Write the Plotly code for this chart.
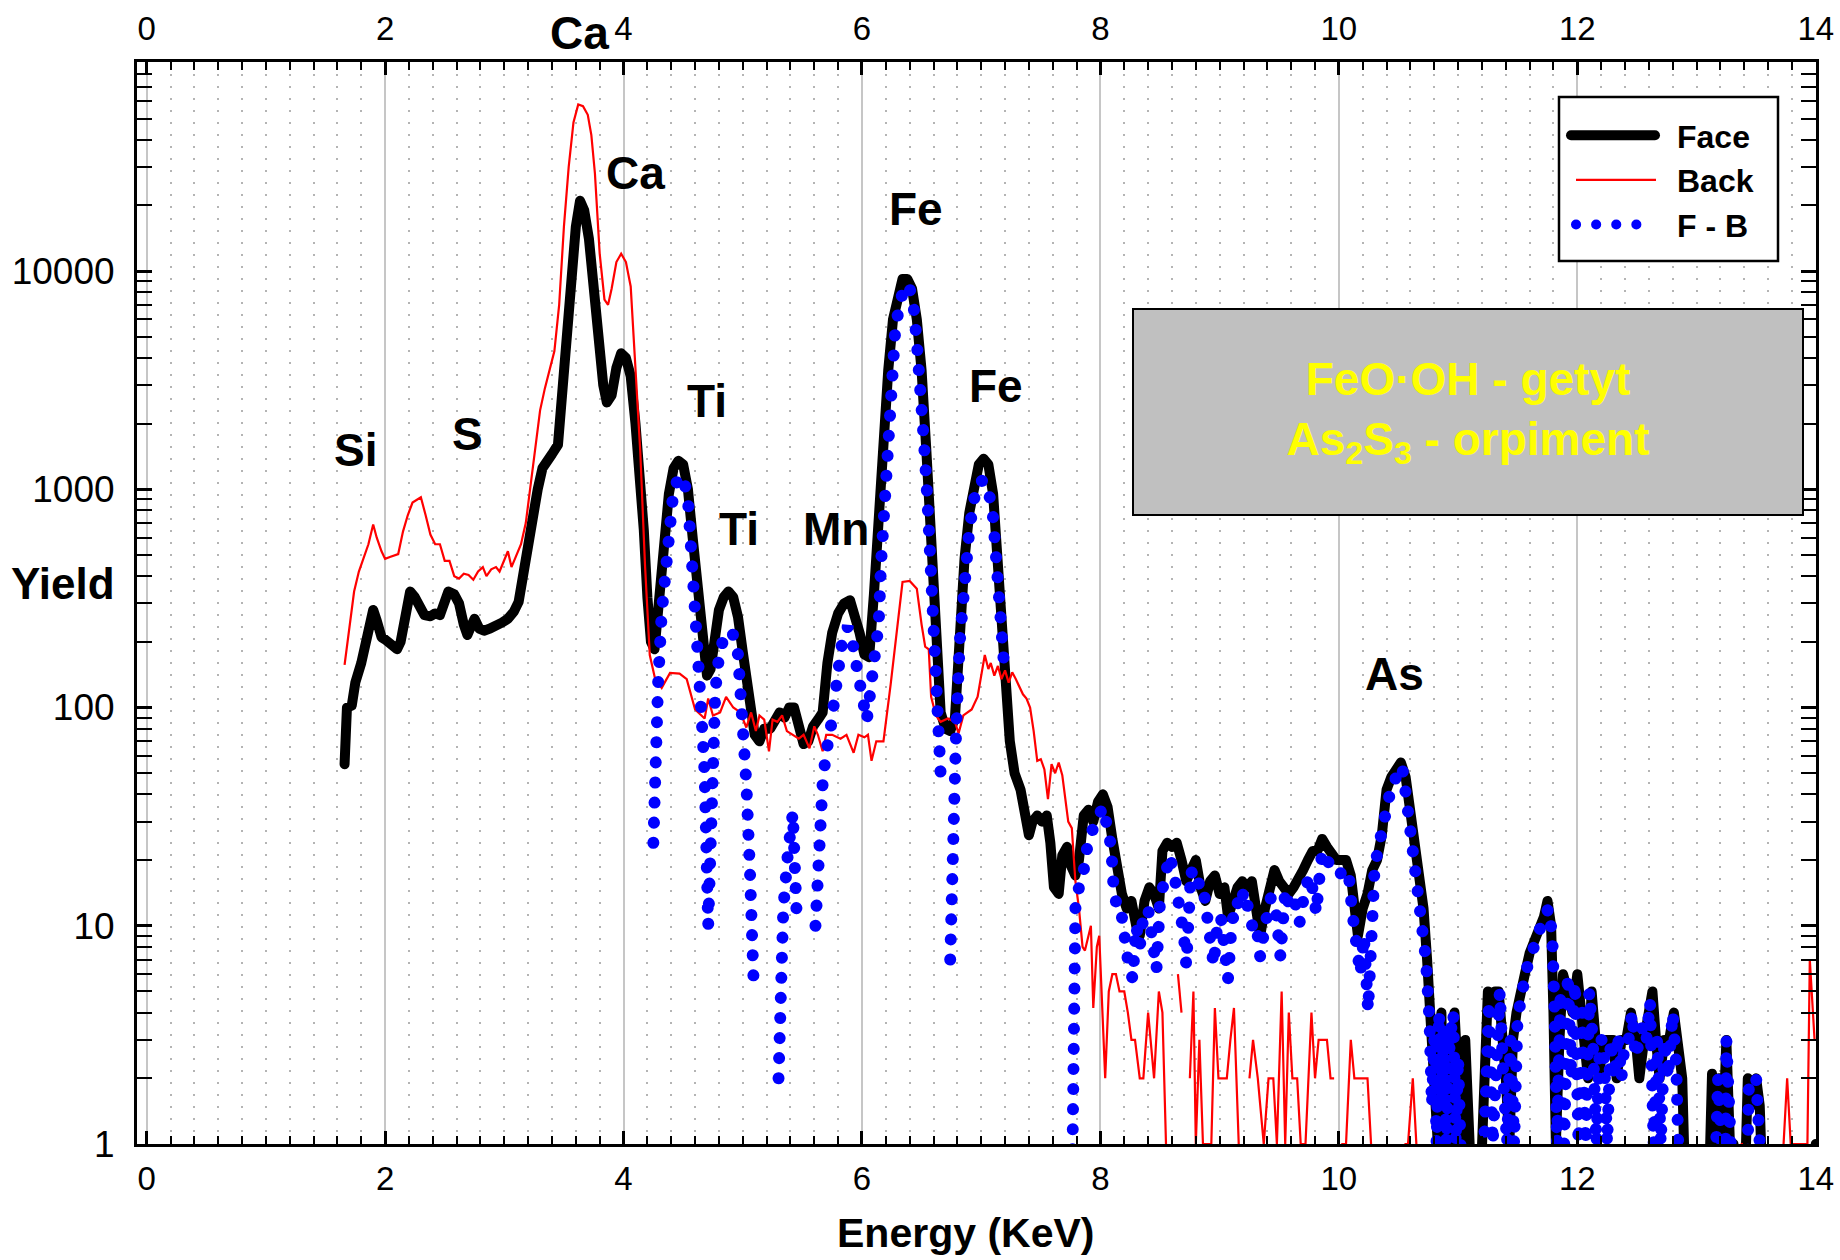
import math
import plotly.graph_objects as go

# ---------------- data ----------------
face_e = [
    1.66, 1.68, 1.72, 1.75, 1.80, 1.85, 1.90, 1.93, 1.97, 2.00,
    2.05, 2.10, 2.13, 2.17, 2.21, 2.25, 2.29, 2.33, 2.38, 2.42,
    2.46, 2.50, 2.53, 2.58, 2.62, 2.66, 2.69, 2.72, 2.75, 2.79,
    2.83, 2.88, 2.93, 2.98, 3.03, 3.08, 3.12, 3.16, 3.20, 3.24,
    3.28, 3.32, 3.36, 3.40, 3.45, 3.48, 3.52, 3.56, 3.60, 3.635,
    3.67, 3.71, 3.75, 3.79, 3.83, 3.86, 3.90, 3.94, 3.98, 4.02,
    4.06, 4.10, 4.14, 4.17, 4.20, 4.23, 4.26, 4.30, 4.34, 4.38,
    4.42, 4.46, 4.50, 4.54, 4.58, 4.62, 4.66, 4.70, 4.73, 4.76,
    4.80, 4.84, 4.88, 4.92, 4.96, 5.00, 5.03, 5.06, 5.10, 5.14,
    5.18, 5.23, 5.27, 5.31, 5.35, 5.39, 5.43, 5.47, 5.51, 5.55,
    5.59, 5.63, 5.67, 5.71, 5.75, 5.80, 5.85, 5.90, 5.94, 5.98,
    6.02, 6.06, 6.10, 6.14, 6.18, 6.22, 6.26, 6.30, 6.34, 6.38,
    6.42, 6.46, 6.50, 6.54, 6.58, 6.62, 6.66, 6.70, 6.74, 6.78,
    6.82, 6.86, 6.90, 6.94, 6.98, 7.02, 7.06, 7.10, 7.14, 7.18,
    7.21, 7.24, 7.28, 7.33, 7.37, 7.40, 7.43, 7.47, 7.51, 7.55,
    7.58, 7.61, 7.65, 7.68, 7.72, 7.75, 7.79, 7.82, 7.86, 7.90,
    7.94, 7.98, 8.02, 8.06, 8.10, 8.14, 8.18, 8.22, 8.26, 8.30,
    8.33, 8.37, 8.41, 8.45, 8.49, 8.52, 8.56, 8.60, 8.64, 8.68,
    8.72, 8.76, 8.80, 8.84, 8.88, 8.92, 8.96, 9.00, 9.04, 9.07,
    9.11, 9.15, 9.19, 9.23, 9.27, 9.31, 9.34, 9.38, 9.42, 9.46,
    9.50, 9.54, 9.58, 9.62, 9.66, 9.70, 9.74, 9.78, 9.82, 9.86,
    9.90, 9.94, 9.98, 10.02, 10.06, 10.10, 10.13, 10.16, 10.20, 10.24,
    10.28, 10.32, 10.36, 10.40, 10.44, 10.48, 10.52, 10.56, 10.60, 10.64,
    10.68, 10.71, 10.74, 10.77, 10.80, 10.83, 10.86, 10.88, 10.91, 10.94,
    10.97, 11.00, 11.03, 11.06, 11.09, 11.12, 11.18, 11.22, 11.25, 11.28,
    11.31, 11.34, 11.37, 11.40, 11.43, 11.46, 11.49, 11.52, 11.56, 11.60,
    11.64, 11.68, 11.72, 11.75, 11.78, 11.80, 11.82, 11.85, 11.88, 11.92,
    11.96, 12.00, 12.03, 12.06, 12.09, 12.12, 12.15, 12.18, 12.22, 12.26,
    12.30, 12.33, 12.37, 12.41, 12.45, 12.49, 12.52, 12.56, 12.60, 12.63,
    12.66, 12.69, 12.73, 12.77, 12.81, 12.85, 12.88, 12.91, 13.10, 13.13,
    13.16, 13.19, 13.22, 13.25, 13.28, 13.31, 13.34, 13.40, 13.43, 13.46,
    13.50, 13.53, 13.56, 13.97, 14.00,
]
face_y = [
    55, 100, 102, 130, 160, 220, 280, 250, 210, 205,
    195, 185, 200, 280, 340, 320, 285, 265, 262, 270,
    265, 320, 340, 330, 300, 240, 215, 235, 255, 230,
    225, 230, 235, 245, 255, 275, 305, 420, 580, 800,
    1000, 1250, 1380, 1450, 1600, 2500, 5000, 9500, 16000, 21000,
    19000, 14000, 8500, 4500, 3000, 2500, 2700, 3600, 4200, 4000,
    3300, 2000, 1100, 650, 320, 200, 185, 330, 650, 950,
    1250, 1350, 1300, 1000, 600, 350, 200, 140, 150, 210,
    280, 320, 340, 320, 260, 180, 140, 100, 75, 70,
    80, 80, 88, 95, 90, 100, 100, 80, 68, 70,
    82, 88, 95, 160, 220, 270, 300, 310, 270, 220,
    175, 170, 330, 800, 1700, 3500, 6000, 8000, 9200, 9200,
    8300, 6000, 3500, 1500, 550, 200, 95, 80, 78, 90,
    240, 480, 780, 1100, 1300, 1380, 1300, 950, 450, 200,
    100, 70, 50, 42, 32, 26, 30, 32, 30, 32,
    24, 15, 14, 21, 23, 19, 17, 20, 32, 34,
    30, 37, 40, 35, 25, 18, 14, 12, 13, 10,
    9, 13, 15, 14, 12, 22, 24, 23, 24, 20,
    16, 18, 20, 15, 13, 16, 17, 14, 15, 11,
    13, 15, 16, 15, 16, 12, 9, 12, 15, 18,
    16, 15, 14, 15, 17, 18, 20, 22, 22, 25,
    23, 21, 20, 20, 20, 17, 11, 9, 12, 14,
    18, 20, 26, 42, 48, 52, 56, 48, 33, 22,
    17, 12, 7, 3.5, 2, 1, 4, 1, 3, 1,
    4, 2, 1, 3, 1, 0.5, 0.5, 3, 5, 4,
    5, 5, 3.5, 2, 1, 3, 4, 5, 6, 7.5,
    8.5, 9.5, 11, 13, 10, 4, 1, 3, 6, 5,
    4, 6, 4, 2.5, 2, 5, 3, 2, 3, 3,
    3, 2, 3, 3, 4, 3, 2, 3, 4, 5,
    3, 2, 3, 3, 4, 2.5, 2, 0.5, 0.5, 2.1,
    1, 2, 1, 3, 1, 1, 0.5, 0.5, 2, 1.5,
    2, 1.5, 0.5, 0.5, 1,
]

back_e = [
    1.66, 1.70, 1.74, 1.78, 1.82, 1.86, 1.90, 1.93, 1.97, 2.00,
    2.04, 2.08, 2.11, 2.15, 2.19, 2.23, 2.27, 2.30, 2.34, 2.38,
    2.42, 2.46, 2.50, 2.54, 2.58, 2.62, 2.66, 2.70, 2.74, 2.78,
    2.82, 2.85, 2.89, 2.93, 2.96, 3.00, 3.03, 3.06, 3.10, 3.14,
    3.18, 3.22, 3.26, 3.30, 3.34, 3.38, 3.42, 3.46, 3.50, 3.54,
    3.58, 3.62, 3.66, 3.70, 3.73, 3.76, 3.80, 3.84, 3.87, 3.90,
    3.94, 3.98, 4.02, 4.06, 4.10, 4.14, 4.18, 4.22, 4.265, 4.32,
    4.39, 4.47, 4.53, 4.60, 4.68, 4.71, 4.75, 4.81, 4.86, 4.92,
    4.98, 5.03, 5.07, 5.11, 5.14, 5.18, 5.22, 5.25, 5.29, 5.33,
    5.37, 5.42, 5.47, 5.51, 5.56, 5.60, 5.63, 5.67, 5.70, 5.75,
    5.82, 5.87, 5.93, 5.97, 6.02, 6.05, 6.08, 6.12, 6.18, 6.24,
    6.30, 6.34, 6.40, 6.46, 6.50, 6.53, 6.56, 6.58, 6.62, 6.66,
    6.72, 6.78, 6.81, 6.85, 6.92, 6.97, 7.00, 7.03, 7.06, 7.08,
    7.11, 7.14, 7.17, 7.20, 7.23, 7.26, 7.29, 7.32, 7.35, 7.38,
    7.41, 7.44, 7.47, 7.50, 7.53, 7.56, 7.59, 7.62, 7.65, 7.68,
    7.71, 7.73, 7.76, 7.79, 7.82, 7.85, 7.87, 7.90, 7.92, 7.94,
    7.97, 7.99, 8.02, 8.04, 8.07, 8.10, 8.13, 8.16, 8.20, 8.23,
    8.26, 8.29, 8.33, 8.36, 8.40, 8.45, 8.49, 8.52, 8.55, 8.58,
    8.62, 8.65, 8.68, 8.71, 8.75, 8.78, 8.80, 8.83, 8.86, 8.90,
    8.93, 8.96, 8.99, 9.03, 9.06, 9.09, 9.12, 9.16, 9.19, 9.25,
    9.28, 9.32, 9.37, 9.41, 9.45, 9.48, 9.52, 9.55, 9.58, 9.61,
    9.65, 9.68, 9.72, 9.77, 9.80, 9.83, 9.87, 9.90, 9.93, 9.96,
    9.99, 10.02, 10.06, 10.10, 10.13, 10.17, 10.20, 10.24, 10.27, 10.30,
    10.55, 10.58, 10.62, 10.65, 10.68, 13.37, 13.39, 13.41, 13.73, 13.76,
    13.79, 13.85, 13.93, 13.95, 13.99,
]
back_y = [
    157, 230, 340, 420, 490, 560, 690, 600, 520, 480,
    490, 500, 505, 640, 760, 870, 900, 920, 760, 620,
    560, 560, 470, 470, 400, 390, 410, 405, 385, 420,
    440, 400, 430, 440, 420, 470, 520, 440, 500, 560,
    700, 1050, 1500, 2300, 2900, 3500, 4300, 7000, 16000, 30000,
    48000, 58000, 57000, 52000, 42000, 28000, 12000, 7400, 7000, 8300,
    11000, 12000, 11000, 8500, 3500, 1500, 450, 174, 135, 123,
    144, 143, 135, 98, 89, 110, 92, 95, 112, 100,
    95, 81, 95, 78, 92, 88, 63, 88, 86, 92,
    78, 75, 72, 75, 65, 82, 75, 63, 75, 75,
    72, 75, 62, 75, 73, 75, 57, 70, 70, 127,
    240, 376, 380, 350, 240, 190, 185, 112, 92, 86,
    89, 86, 76, 92, 98, 112, 140, 174, 150, 160,
    140, 155, 135, 148, 130, 145, 135, 125, 115, 110,
    100, 78, 57, 58, 52, 38, 55, 50, 56, 49,
    35, 30, 28, 16, 12, 8, 7.7, 9, 10, 4.2,
    8, 9, 4, 2, 5, 6, 6, 5, 5, 4,
    3, 3, 2, 2, 4, 2, 5, 4, 1, None,
    None, 6, 4, None, 2, 5, 1, 3, 1, 1,
    1, 4.2, 2, 2, 2, 3, 4.2, 1, None, 2,
    3, 2, 1, 2, 2, 1, 5, 1, 4, 2,
    2, 1, 1, 4, 2, 3, 3, 3, 2, 2,
    None, 1, 1, 3, 2, 2, 2, 2, 1, None,
    1, 1, 2, 1, None, 1, 1, None, 1, 2,
    1, 1, 1, 7, 3,
]

fb_e = [
    4.25, 4.27, 4.29, 4.32, 4.35, 4.38, 4.42, 4.46, 4.50, 4.54,
    4.57, 4.60, 4.63, 4.66, 4.68, 4.71, 4.74, 4.77, 4.80, 4.84,
    4.88, 4.92, 4.96, 5.00, 5.03, 5.06, 5.09, 5.11, 5.30, 5.34,
    5.38, 5.42, 5.45, 5.47, 5.61, 5.64, 5.67, 5.70, 5.73, 5.77,
    5.80, 5.84, 5.88, 5.92, 5.95, 5.98, 6.01, 6.04, 6.08, 6.10,
    6.14, 6.16, 6.19, 6.22, 6.25, 6.28, 6.32, 6.36, 6.40, 6.43,
    6.46, 6.49, 6.52, 6.55, 6.57, 6.60, 6.63, 6.66, 6.68, 6.74,
    6.76, 6.79, 6.82, 6.86, 6.90, 6.94, 6.98, 7.02, 7.06, 7.10,
    7.14, 7.17, 7.19, 7.21, 7.76, 7.79, 7.82, 7.86, 7.90, 7.94,
    7.98, 8.02, 8.06, 8.09, 8.11, 8.14, 8.17, 8.20, 8.23, 8.27,
    8.30, 8.33, 8.36, 8.40, 8.43, 8.47, 8.50, 8.54, 8.58, 8.62,
    8.66, 8.70, 8.72, 8.76, 8.80, 8.84, 8.87, 8.91, 8.95, 8.98,
    9.01, 9.04, 9.07, 9.10, 9.14, 9.18, 9.20, 9.24, 9.28, 9.31,
    9.34, 9.38, 9.43, 9.47, 9.51, 9.55, 9.59, 9.63, 9.67, 9.71,
    9.75, 9.79, 9.81, 9.85, 9.88, 9.92, 9.96, 10.00, 10.04, 10.08,
    10.11, 10.14, 10.18, 10.21, 10.245, 10.27, 10.30, 10.34, 10.38, 10.41,
    10.45, 10.49, 10.53, 10.57, 10.61, 10.65, 10.68, 10.71, 10.73, 10.76,
    10.78, 10.80, 10.82, 10.84, 10.86, 10.88, 10.90, 10.93, 10.96, 10.98,
    11.00, 11.02, 11.05, 11.20, 11.23, 11.26, 11.29, 11.32, 11.35, 11.38,
    11.41, 11.44, 11.47, 11.50, 11.53, 11.56, 11.60, 11.64, 11.68, 11.72,
    11.76, 11.79, 11.81, 11.83, 11.86, 11.89, 11.92, 11.95, 11.98, 12.01,
    12.04, 12.07, 12.10, 12.13, 12.16, 12.19, 12.22, 12.25, 12.28, 12.31,
    12.34, 12.37, 12.40, 12.43, 12.46, 12.49, 12.52, 12.55, 12.58, 12.61,
    12.64, 12.67, 12.70, 12.73, 12.76, 12.80, 12.83, 12.86, 13.02, 13.05,
    13.08, 13.15, 13.18, 13.21, 13.24, 13.25, 13.28, 13.31, 13.42, 13.44,
    13.47, 13.50, 13.53, 13.55,
]
fb_y = [
    24, 80, 130, 270, 450, 600, 1000, 1120, 1150, 900,
    550, 280, 150, 80, 50, 10, 60, 120, 170, 210,
    225, 215, 175, 95, 45, 18, 5.7, None, 2, 12,
    22, 33, 12, None, 10, 27, 45, 63, 75, 110,
    147, 212, 234, 200, 160, 127, 105, 87, 131, 164,
    240, 457, 870, 1640, 3100, 5500, 7200, 8700, 8300, 7200,
    4700, 3100, 1640, 870, 457, 240, 110, 49, None, 7,
    40, 80, 200, 400, 650, 900, 1080, 1100, 1000, 740,
    400, 204, 160, None, 0.5, 12, 15, 18, 25, 28,
    32, 35, 28, 23, 15, 12, 12, 8, 7, 5.7,
    10, 8, 11, 12, 9, 6.3, 13, 18, 21, 17,
    13, 9, 6.6, 18, 15, 16, 14, 9, 6.6, 10,
    11, 8, 5.7, 10, 13, 12, 14.5, 12, 9.6, 10,
    7.2, 10, 13.5, 12, 7.2, 14.6, 12, 13, 10.3, 14,
    17, 14, 11.4, 20, 22, 19, 18, 17, 18, 18,
    11.8, 7.7, 6, 9, 4.1, 8, 18.6, 24, 32, 41,
    46, 48, 54, 37, 25, 19, 14, 10, 7, 3.7,
    1.5, 3, 1, 4, 1.5, 3.5, 1, 3, 4, 1,
    2.5, 1, 0.5, 0.5, 3, 4.5, 1, 4, 5, 2,
    1, 3, 1, 4, 4.5, 6, 7, 8.5, 9.5, 11,
    12, 9, 4, 1, 5, 1, 6, 2, 5.5, 1,
    4, 1, 5, 3, 1, 3, 3, 1, 3, 2,
    3.2, 2, 3, 3, 4, 2.5, 3, 3.5, 3, 4.5,
    1, 3, 1, 3, 2, 4, 2.3, 0.5, 0.5, 1,
    0.5, 0.5, 2, 1, 0.5, 3, 1, 0.5, 0.5, 2,
    2, 2, 1, 0.5,
]

x_ticks = [0, 2, 4, 6, 8, 10, 12, 14]
y_ticks = [1, 10, 100, 1000, 10000]
y_ticktext = ["1", "10", "100", "1000", "10000"]
y_minor = [d * 10 ** k for k in range(0, 5) for d in range(2, 10)]

peak_names = ["Si", "S", "Ca", "Ti", "Ti", "Mn", "Fe", "Fe", "As"]
peak_x = [1.75, 2.69, 4.10, 4.70, 4.97, 5.78, 6.45, 7.12, 10.47]
peak_y = [1520, 1790, 28000, 2550, 655, 655, 19200, 2960, 143]

FONT = "Liberation Sans, Arial, Helvetica, sans-serif"

# ---------------- figure ----------------
fig = go.Figure()
fig.add_trace(go.Scatter(x=face_e, y=face_y, mode="lines", name="Face", uid="face",
                         line=dict(color="black", width=10), hoverinfo="skip"))
fig.add_trace(go.Scatter(x=back_e, y=back_y, mode="lines", name="Back", uid="back",
                         line=dict(color="#ff0000", width=2.2), hoverinfo="skip"))
fig.add_trace(go.Scatter(x=fb_e, y=fb_y, mode="lines", name="F - B", uid="fb",
                         line=dict(color="#0000ff", width=12, dash="dot"), hoverinfo="skip"))
fig.add_trace(go.Scatter(x=[None], y=[None], xaxis="x2", yaxis="y", mode="lines",
                         showlegend=False, hoverinfo="skip"))

L, R, T, B = 137, 24, 62, 116
W, H = 1840, 1260
pw, ph = W - L - R, H - T - B


def px(xpix):
    return (xpix - L) / pw


def py(ypix):
    return (H - B - ypix) / ph


axis_common = dict(showline=True, linecolor="black", linewidth=3, zeroline=False,
                   automargin=False)

fig.update_layout(
    width=W, height=H,
    margin=dict(l=L, r=R, t=T, b=B, pad=0, autoexpand=False),
    paper_bgcolor="white", plot_bgcolor="white",
    font=dict(family=FONT, color="black"),
    xaxis=dict(
        range=[-0.081, 14.002], tickmode="array", tickvals=x_ticks,
        ticks="inside", ticklen=13, tickwidth=2.5, tickcolor="black",
        mirror="allticks", showgrid=True, gridcolor="#c6c6c6", gridwidth=2,
        tickfont=dict(family=FONT, size=33, color="black"), ticklabelstandoff=3,
        minor=dict(dtick=0.2, tick0=0, ticks="inside", ticklen=8, tickwidth=2,
                   tickcolor="black", showgrid=True, gridcolor="#b4b4b4",
                   gridwidth=2, griddash="2px,10px"),
        **axis_common,
    ),
    xaxis2=dict(
        overlaying="x", side="top", matches="x", range=[-0.081, 14.002],
        tickmode="array", tickvals=x_ticks, ticks="", showgrid=False,
        showline=False, zeroline=False, ticklabelstandoff=14, automargin=False,
        tickfont=dict(family=FONT, size=33, color="black"),
    ),
    yaxis=dict(
        type="log", range=[0, 4.958], tickmode="array", tickvals=y_ticks,
        ticktext=y_ticktext, ticks="inside", ticklen=15, tickwidth=2.5,
        tickcolor="black", mirror="allticks", showgrid=False,
        tickfont=dict(family=FONT, size=37, color="black"), ticklabelstandoff=12,
        minor=dict(tickmode="array", tickvals=y_minor, ticks="inside", ticklen=9,
                   tickwidth=2, tickcolor="black", showgrid=False),
        **axis_common,
    ),
    showlegend=True,
    legend=dict(
        x=px(1559), y=py(108), xanchor="left", yanchor="top",
        bgcolor="rgba(0,0,0,0)", borderwidth=0,
        font=dict(family=FONT, size=32, color="black", weight="bold"),
        itemwidth=108, tracegroupgap=0,
    ),
    shapes=[dict(type="rect", xref="paper", yref="paper",
                 x0=px(1559), x1=px(1778), y0=py(261), y1=py(97),
                 fillcolor="white", line=dict(color="black", width=2.5),
                 layer="above")],
)

annotations = []
for name, ex, ey in zip(peak_names, peak_x, peak_y):
    annotations.append(dict(x=ex, y=math.log10(ey), xref="x", yref="y", text=name,
                            showarrow=False, xanchor="center", yanchor="middle",
                            font=dict(family=FONT, size=46, color="black", weight="bold")))
# Ca label above the frame
annotations.append(dict(x=3.63, y=py(33), xref="x", yref="paper", text="Ca",
                        showarrow=False, xanchor="center", yanchor="middle",
                        font=dict(family=FONT, size=46, color="black", weight="bold")))
# axis titles
annotations.append(dict(x=px(117), y=py(583), xref="paper", yref="paper", text="Yield",
                        showarrow=False, xanchor="right", yanchor="middle",
                        font=dict(family=FONT, size=44, color="black", weight="bold")))
annotations.append(dict(x=px(965), y=py(1233), xref="paper", yref="paper",
                        text="Energy (KeV)", showarrow=False, xanchor="center",
                        yanchor="middle",
                        font=dict(family=FONT, size=41, color="black", weight="bold")))
# grey info box
annotations.append(dict(x=px(1468), y=py(412), xref="paper", yref="paper",
                        text="FeO·OH - getyt<br>As<sub>2</sub>S<sub>3</sub> - orpiment",
                        showarrow=False, xanchor="center", yanchor="middle",
                        align="center", valign="middle", width=668, height=204,
                        bgcolor="#c0c0c0", bordercolor="black", borderwidth=2, borderpad=0,
                        font=dict(family=FONT, size=46, color="#ffff00", weight="bold")))
fig.update_layout(annotations=annotations)

post = """
document.body.style.margin = '0';
document.body.style.padding = '0';
document.body.style.overflow = 'hidden';
var gd = document.getElementById('{plot_id}');
function styleLines(){
  gd.querySelectorAll('.tracefb path.js-line').forEach(function(p){
    p.style.strokeLinecap = 'round';
    p.style.strokeDasharray = '0.1px,20px';
  });
  gd.querySelectorAll('.traceface path.js-line').forEach(function(p){
    p.style.strokeLinecap = 'round';
    p.style.strokeLinejoin = 'round';
  });
  var legs = gd.querySelectorAll('.legend .traces');
  var starts = [12, 17, 17];
  var lens = [84, 80, 61];
  legs.forEach(function(g, i){
    g.querySelectorAll('.legendlines path').forEach(function(p){
      if (i < 3) { p.setAttribute('d', 'M' + starts[i] + ',0h' + lens[i]); }
      if (i === 0) { p.style.strokeLinecap = 'round'; }
      if (i === 2) { p.style.strokeLinecap = 'round'; p.style.strokeDasharray = '0.1px,20px'; }
    });
  });
}
styleLines();
gd.on('plotly_afterplot', styleLines);
"""

fig.write_html("out.html", post_script=post, config={"displayModeBar": False})
